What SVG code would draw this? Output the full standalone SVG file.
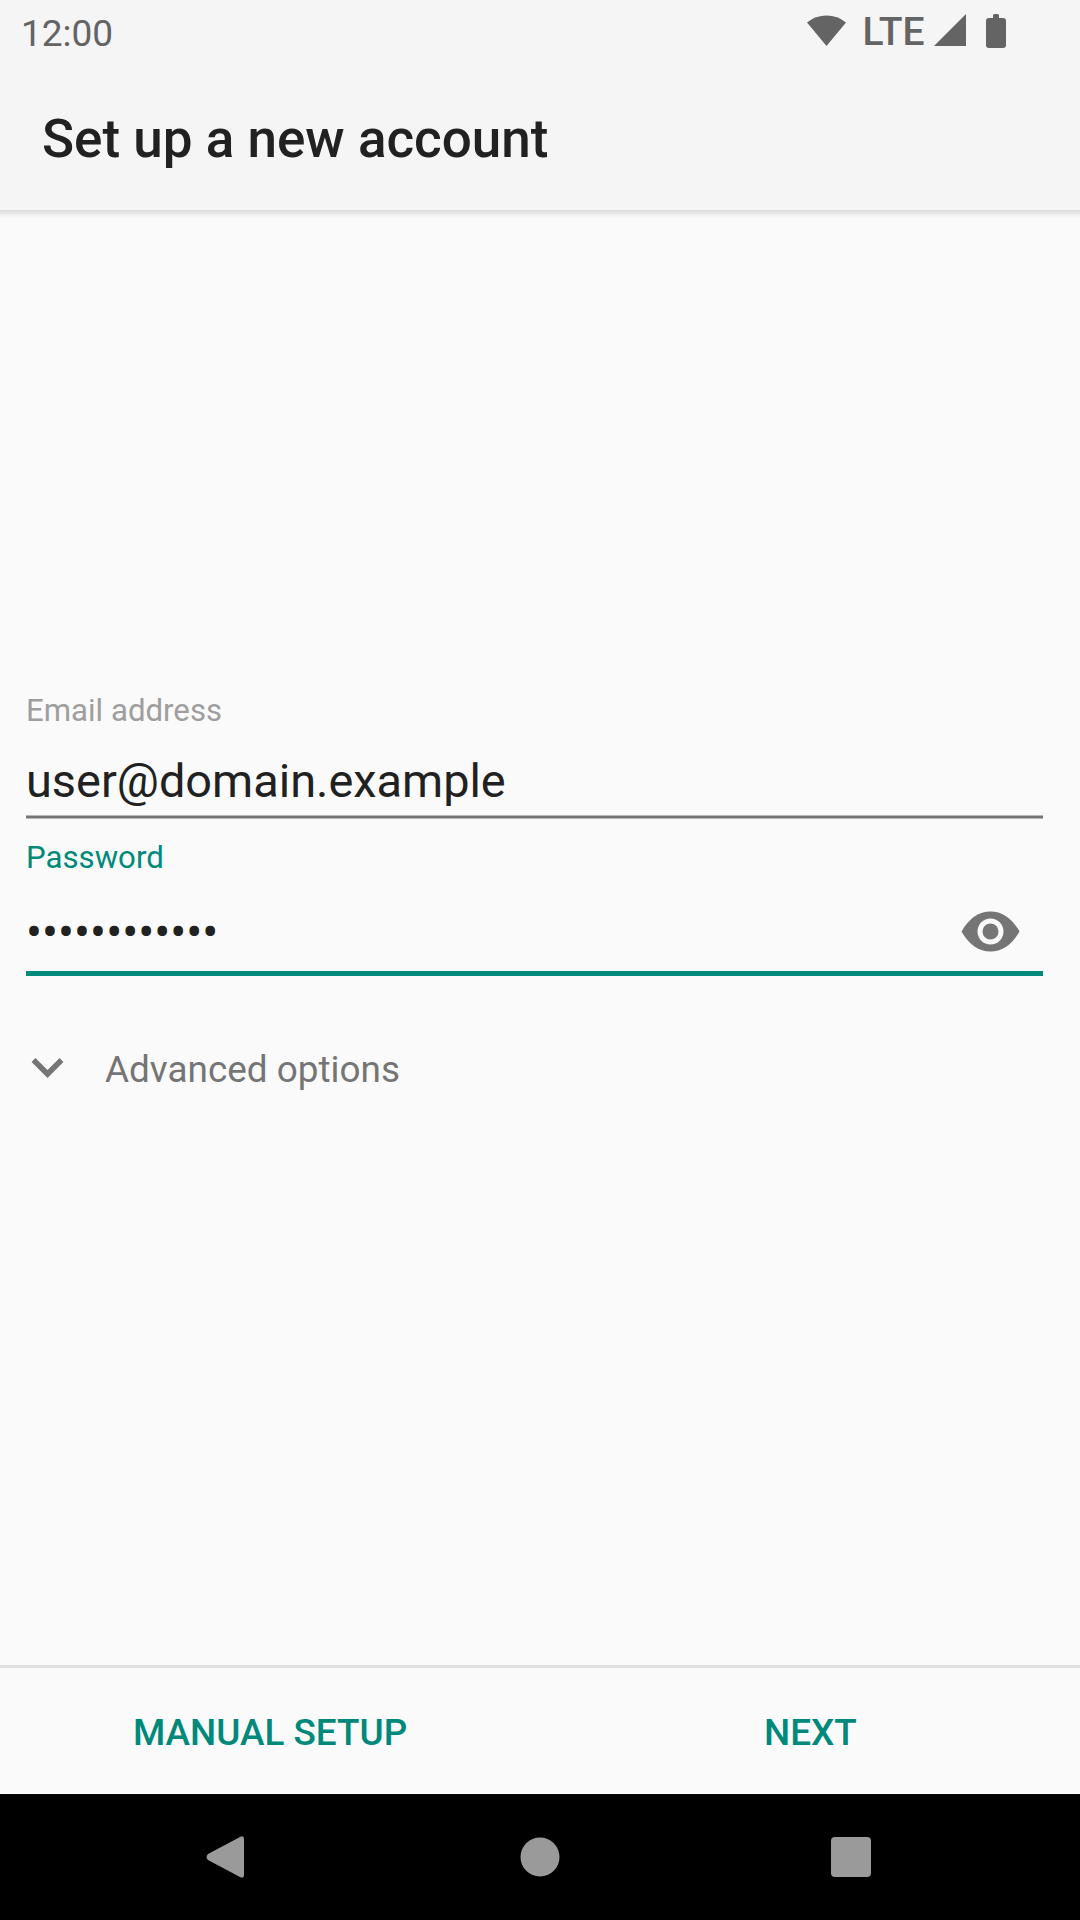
<svg xmlns="http://www.w3.org/2000/svg" width="1080" height="1920" viewBox="0 0 1080 1920">
<style>
text{font-family:Roboto,"Noto Sans",sans-serif}
.st{fill:#646464;font-size:37px}
.lab{font-size:31.200px}
.teal{fill:#00897b}
.btn{fill:#00897b;font-size:36.900px;font-weight:500}
.nav{fill:#9a9a9a}
</style>
<defs>
<linearGradient id="sh" x1="0" y1="0" x2="0" y2="1"><stop offset="0" stop-color="#000" stop-opacity=".12"/><stop offset="1" stop-color="#000" stop-opacity="0"/></linearGradient>
</defs>
<rect width="1080" height="1920" fill="#fafafa"/>
<g id="header">
<rect y="210" width="1080" height="8" fill="url(#sh)"/>
<rect width="1080" height="210" fill="#f5f5f5"/>
<text x="21" y="46" class="st">12:00</text>
<text x="42" y="157" font-size="53" font-weight="500" fill="#212121">Set up a new account</text>
</g>
<g id="status-icons" fill="#646464">
<path d="M807 22.500A31 31 0 0 1 846 22.500L826.500 46Z"/>
<text x="862.500" y="45" font-size="39" font-weight="500">LTE</text>
<path d="M966 14V46H934Z"/>
<path d="M993 18V15.500Q993 14 994.500 14H997.500Q999 14 999 15.500V18H1003Q1006 18 1006 21V45Q1006 48 1003 48H989Q986 48 986 45V21Q986 18 989 18Z"/>
</g>
<g id="email-field">
<text x="26" y="721" class="lab" fill="#9e9e9e">Email address</text>
<text x="26" y="797" font-size="46.900" fill="#212121">user@domain.example</text>
<rect x="26" y="815.500" width="1017" height="3" fill="#757575"/>
</g>
<g id="password-field">
<text x="26" y="868" class="lab teal">Password</text>
<text x="26" y="949" font-size="47.500" fill="#212121">••••••••••••</text>
<rect x="26" y="971" width="1017" height="5" fill="#00897b"/>
<path d="M961.500 931.500Q973 911.500 990.500 911.500Q1008 911.500 1019.500 931.500Q1008 951.500 990.500 951.500Q973 951.500 961.500 931.500Z" fill="#757575"/>
<circle cx="990.500" cy="931.500" r="10.500" fill="none" stroke="#fafafa" stroke-width="5"/>
</g>
<g id="advanced-options">
<path d="M33.500 1060L47.500 1074L61.500 1060" fill="none" stroke="#757575" stroke-width="5.500"/>
<text x="105" y="1082" font-size="36.900" fill="#757575">Advanced options</text>
</g>
<g id="footer">
<rect y="1665" width="1080" height="3" fill="#dedede"/>
<text x="133" y="1745" class="btn">MANUAL SETUP</text>
<text x="764" y="1745" class="btn">NEXT</text>
</g>
<g id="navbar">
<rect y="1794" width="1080" height="126" fill="#000"/>
<path class="nav" d="M208 1854L240 1837Q244 1835 244 1839V1875Q244 1879 240 1877L208 1860Q205 1857 208 1854Z"/>
<circle class="nav" cx="540" cy="1857" r="19.500"/>
<rect class="nav" x="831" y="1837" width="40" height="40" rx="4"/>
</g>
</svg>
